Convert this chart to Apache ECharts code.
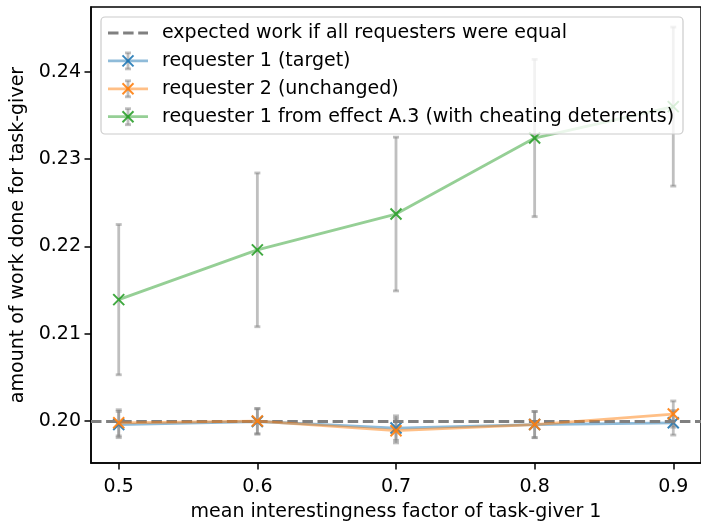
<!DOCTYPE html>
<html>
<head>
<meta charset="utf-8">
<title>Work done for task-giver</title>
<script src="https://cdn.jsdelivr.net/npm/echarts@6.0.0/dist/echarts.min.js"></script>
<style>
  html, body { margin: 0; padding: 0; background: #fff; }
  #chart { width: 701px; height: 527px; }
</style>
</head>
<body>
<div id="chart"></div>
<script>
// mean interestingness factor of task-giver 1
const interestingness = [0.5, 0.6, 0.7, 0.8, 0.9];

// requester 1 (target): mean and half-width of its error bar
const targetMean = [0.1996, 0.19995, 0.1992, 0.1996, 0.1998];
const targetErr  = [0.00150, 0.00145, 0.00140, 0.00150, 0.00140];

// requester 2 (unchanged)
const unchangedMean = [0.1998, 0.2000, 0.1989, 0.1996, 0.2008];
const unchangedErr  = [0.00150, 0.00145, 0.00140, 0.00150, 0.00150];

// requester 1 from effect A.3 (with cheating deterrents)
const deterrentMean = [0.2139, 0.2196, 0.2237, 0.2324, 0.2360];
const deterrentErr  = [0.0086, 0.0088, 0.0088, 0.0090, 0.0091];

// share each requester would get if all were equal
const expectedShare = 0.2;

const xTicks = [0.5, 0.6, 0.7, 0.8, 0.9];
const yTicks = [0.20, 0.21, 0.22, 0.23, 0.24];

const FONT = 'DejaVu Sans';
const FS = 19;
const LW = 2.8;
const BLUE = '#1f77b4', ORANGE = '#ff7f0e', GREEN = '#2ca02c';
const BAR_COLOR = 'rgba(128,128,128,0.5)';
const CROSS = 'path://M0,0L10,10M10,0L0,10';

function errorBarSeries(mean, err, z) {
  return {
    type: 'custom',
    z: z,
    silent: true,
    data: interestingness.map((x, i) => [x, mean[i] - err[i], mean[i] + err[i]]),
    renderItem: function (params, api) {
      const x = api.value(0);
      const lo = api.coord([x, api.value(1)]);
      const hi = api.coord([x, api.value(2)]);
      const cap = 3;
      const style = { stroke: BAR_COLOR, lineWidth: LW };
      return {
        type: 'group',
        children: [
          { type: 'line', shape: { x1: lo[0], y1: lo[1], x2: hi[0], y2: hi[1] }, style: style },
          { type: 'line', shape: { x1: hi[0] - cap, y1: hi[1], x2: hi[0] + cap, y2: hi[1] }, style: style },
          { type: 'line', shape: { x1: lo[0] - cap, y1: lo[1], x2: lo[0] + cap, y2: lo[1] }, style: style }
        ]
      };
    }
  };
}

function meanSeries(name, mean, color, z) {
  return {
    name: name,
    type: 'line',
    z: z,
    silent: true,
    data: interestingness.map((x, i) => [x, mean[i]]),
    symbol: CROSS,
    symbolSize: 11,
    showSymbol: true,
    lineStyle: { color: color, width: LW, opacity: 0.5 },
    itemStyle: { color: color, borderColor: color, borderWidth: 2, opacity: 0.9 },
    emphasis: { disabled: true }
  };
}

// hand-built legend in the upper left of the plot
const legendRows = [
  { text: 'expected work if all requesters were equal', kind: 'dash' },
  { text: 'requester 1 (target)', kind: 'err', color: BLUE },
  { text: 'requester 2 (unchanged)', kind: 'err', color: ORANGE },
  { text: 'requester 1 from effect A.3 (with cheating deterrents)', kind: 'err', color: GREEN }
];
const legendGraphics = [{
  type: 'rect', z: 100,
  shape: { x: 101, y: 17, width: 582, height: 117, r: 4 },
  style: { fill: 'rgba(255,255,255,0.8)', stroke: '#cccccc', lineWidth: 1.2 }
}];
legendRows.forEach((row, i) => {
  const cy = 33 + i * 27.9;
  if (row.kind === 'dash') {
    legendGraphics.push({
      type: 'line', z: 101,
      shape: { x1: 108, y1: cy, x2: 148, y2: cy },
      style: { stroke: '#808080', lineWidth: LW, lineDash: [10.5, 4.6] }
    });
  } else {
    const bar = { stroke: BAR_COLOR, lineWidth: LW };
    legendGraphics.push(
      { type: 'line', z: 101, shape: { x1: 128, y1: cy - 8, x2: 128, y2: cy + 8 }, style: bar },
      { type: 'line', z: 101, shape: { x1: 125, y1: cy - 8, x2: 131, y2: cy - 8 }, style: bar },
      { type: 'line', z: 101, shape: { x1: 125, y1: cy + 8, x2: 131, y2: cy + 8 }, style: bar },
      { type: 'line', z: 102, shape: { x1: 108, y1: cy, x2: 148, y2: cy },
        style: { stroke: row.color, lineWidth: LW, opacity: 0.5 } },
      { type: 'line', z: 103, shape: { x1: 122.5, y1: cy - 5.5, x2: 133.5, y2: cy + 5.5 },
        style: { stroke: row.color, lineWidth: 2, opacity: 0.9 } },
      { type: 'line', z: 103, shape: { x1: 133.5, y1: cy - 5.5, x2: 122.5, y2: cy + 5.5 },
        style: { stroke: row.color, lineWidth: 2, opacity: 0.9 } }
    );
  }
  legendGraphics.push({
    type: 'text', z: 101,
    style: {
      x: 162, y: cy, text: row.text, fill: '#000',
      font: FS + 'px "' + FONT + '"', verticalAlign: 'middle', align: 'left'
    }
  });
});

const axisCommon = {
  type: 'value',
  axisLine: { show: true, onZero: false, lineStyle: { color: '#000', width: 1.5 } },
  axisTick: { show: true, length: 6.5, lineStyle: { color: '#000', width: 1.5 } },
  splitLine: { show: false },
  nameLocation: 'middle',
  nameTextStyle: { color: '#000', fontSize: FS, fontFamily: FONT }
};

const chart = echarts.init(document.getElementById('chart'), null, { renderer: 'canvas' });
chart.setOption({
  animation: false,
  backgroundColor: '#fff',
  grid: { left: 91, top: 7, width: 620, height: 461, show: true, borderColor: '#000', borderWidth: 1.5, containLabel: false },
  xAxis: Object.assign({}, axisCommon, {
    min: 0.48, max: 0.92,
    name: 'mean interestingness factor of task-giver 1',
    nameGap: 40,
    axisTick: Object.assign({}, axisCommon.axisTick, { customValues: xTicks }),
    axisLabel: { customValues: xTicks, formatter: v => v.toFixed(1), margin: 15,
      color: '#000', fontSize: FS, fontFamily: FONT }
  }),
  yAxis: Object.assign({}, axisCommon, {
    min: 0.1952, max: 0.2474,
    name: 'amount of work done for task-giver',
    nameGap: 57,
    axisTick: Object.assign({}, axisCommon.axisTick, { customValues: yTicks }),
    axisLabel: { customValues: yTicks, formatter: v => v.toFixed(2), margin: 10,
      color: '#000', fontSize: FS, fontFamily: FONT }
  }),
  series: [
    {
      type: 'line', name: 'expected', data: [], z: 1, silent: true,
      markLine: {
        silent: true, symbol: 'none', animation: false,
        label: { show: false },
        lineStyle: { color: '#808080', width: LW, type: [10.5, 4.6] },
        data: [{ yAxis: expectedShare }]
      }
    },
    errorBarSeries(targetMean, targetErr, 2),
    meanSeries('requester 1 (target)', targetMean, BLUE, 3),
    errorBarSeries(unchangedMean, unchangedErr, 4),
    meanSeries('requester 2 (unchanged)', unchangedMean, ORANGE, 5),
    errorBarSeries(deterrentMean, deterrentErr, 6),
    meanSeries('requester 1 from effect A.3 (with cheating deterrents)', deterrentMean, GREEN, 7)
  ],
  graphic: legendGraphics
});
</script>
</body>
</html>
